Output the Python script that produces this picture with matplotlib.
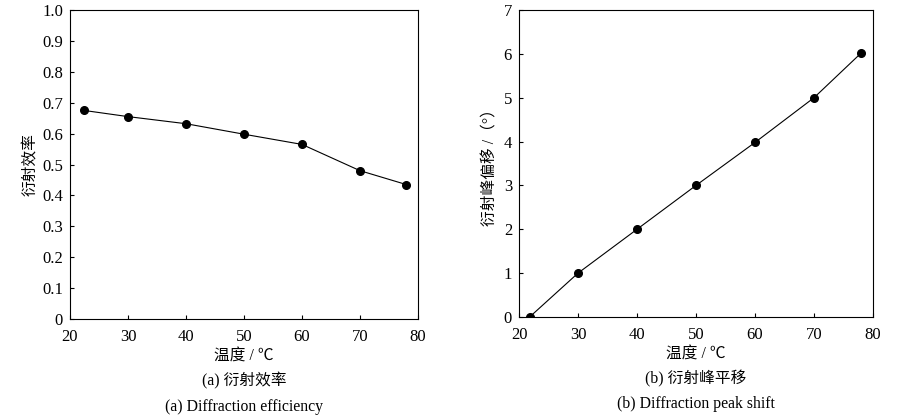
import matplotlib
matplotlib.use('Agg')
import matplotlib.pyplot as plt

plt.rcParams['font.family'] = ['Liberation Serif', 'Noto Sans CJK SC', 'DejaVu Sans']
plt.rcParams['axes.unicode_minus'] = False

# (a) diffraction efficiency
temp_a = [22.4, 30, 40, 50, 60, 70, 78]
eff_a = [0.675, 0.655, 0.632, 0.598, 0.565, 0.480, 0.435]

# (b) diffraction peak shift
temp_b = [21.8, 30, 40, 50, 60, 70, 78]
shift_b = [0.0, 1.0, 2.0, 3.0, 3.98, 5.0, 6.02]

fs_tick = 12
fs = 11.3

fig = plt.figure(figsize=(9, 4.16), dpi=100)
ax1 = fig.add_axes([70 / 900, 1 - 319 / 416, 348 / 900, 309 / 416])
ax2 = fig.add_axes([519 / 900, 1 - 317 / 416, 354 / 900, 307 / 416])

ax1.plot(temp_a, eff_a, color='black', linewidth=0.8, marker='o', markersize=5.5)
ax1.set_xlim(20, 80)
ax1.set_ylim(0, 1.0)
ax1.set_xticks([20, 30, 40, 50, 60, 70, 80])
ax1.set_yticks([0, 0.1, 0.2, 0.3, 0.4, 0.5, 0.6, 0.7, 0.8, 0.9, 1.0])
ax1.set_yticklabels(['0', '0.1', '0.2', '0.3', '0.4', '0.5', '0.6', '0.7', '0.8', '0.9', '1.0'])
ax1.set_ylabel('衍射效率', fontsize=fs, labelpad=2)

ax2.plot(temp_b, shift_b, color='black', linewidth=0.8, marker='o', markersize=5.5)
ax2.set_xlim(20, 80)
ax2.set_ylim(0, 7)
ax2.set_xticks([20, 30, 40, 50, 60, 70, 80])
ax2.set_yticks([0, 1, 2, 3, 4, 5, 6, 7])
ax2.set_ylabel('衍射峰偏移 /（°）', fontsize=fs, labelpad=4)

captions = [('(a) 衍射效率', '(a) Diffraction efficiency'),
            ('(b) 衍射峰平移', '(b) Diffraction peak shift')]

for ax, (cn, en) in zip([ax1, ax2], captions):
    ax.tick_params(direction='in', length=3, width=0.8, labelsize=fs_tick)
    ax.tick_params(axis='x', pad=7)
    ax.tick_params(axis='y', pad=5)
    for sp in ax.spines.values():
        sp.set_linewidth(0.8)
    ax.set_xlabel('温度 / ℃', fontsize=fs, labelpad=3)
    ax.text(0.5, -0.2, cn, transform=ax.transAxes, ha='center', va='center', fontsize=fs)
    ax.text(0.5, -0.285, en, transform=ax.transAxes, ha='center', va='center', fontsize=fs)

fig.savefig('out.png', dpi=100)
